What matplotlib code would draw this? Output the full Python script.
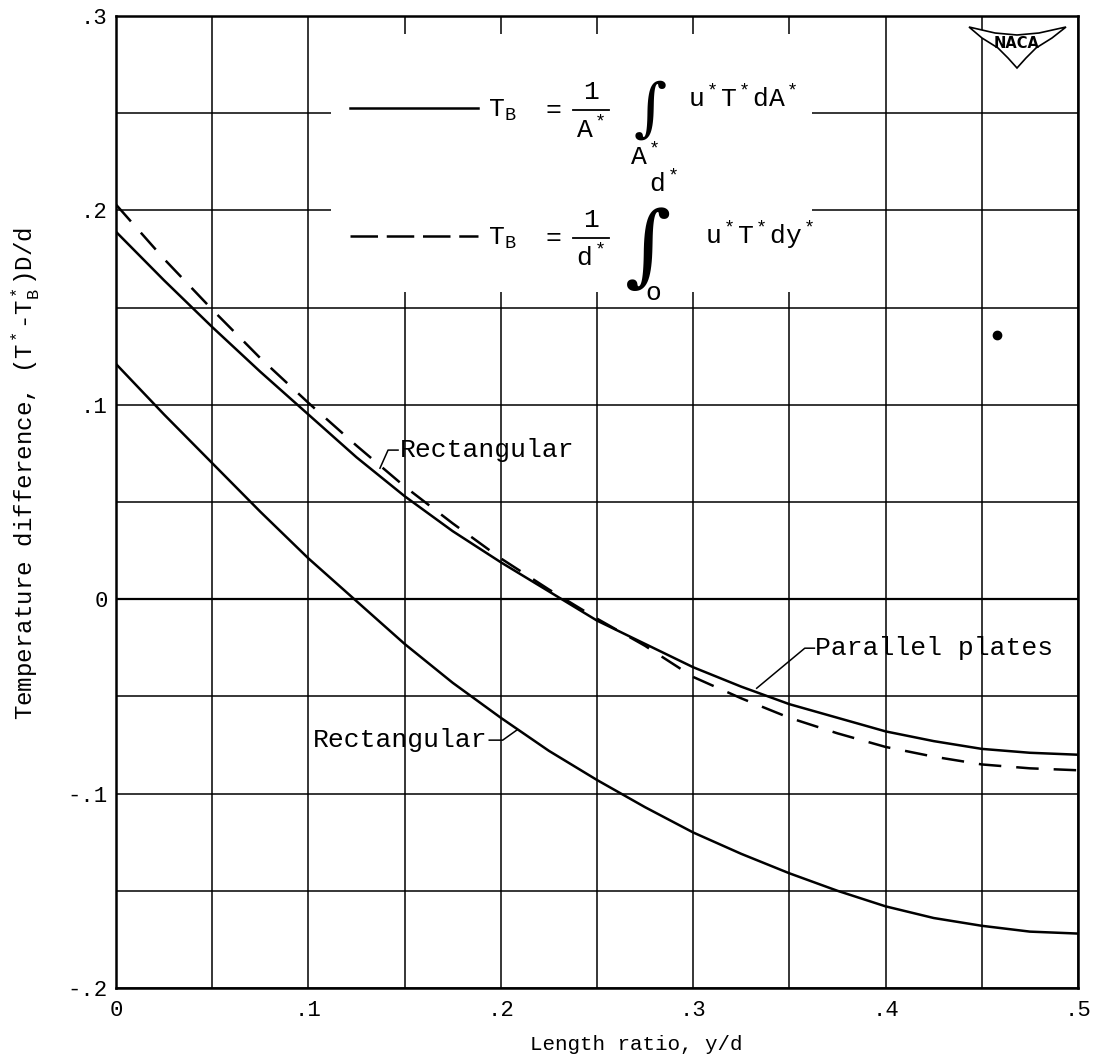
import matplotlib
matplotlib.use('Agg')
import matplotlib.pyplot as plt
from matplotlib.patches import Rectangle, Polygon

# --- data ---
y_d = [0.0, 0.025, 0.05, 0.075, 0.1, 0.125, 0.15, 0.175, 0.2, 0.225, 0.25,
       0.275, 0.3, 0.325, 0.35, 0.375, 0.4, 0.425, 0.45, 0.475, 0.5]

# upper solid curve (area-weighted bulk temperature)
solid_upper = [0.189, 0.164, 0.140, 0.117, 0.095, 0.073, 0.053, 0.035, 0.019, 0.004, -0.011,
               -0.023, -0.035, -0.045, -0.054, -0.061, -0.068, -0.073, -0.077, -0.079, -0.080]

# dashed curve (bulk temperature over d*)
dashed = [0.203, 0.175, 0.149, 0.124, 0.101, 0.079, 0.058, 0.039, 0.021, 0.005, -0.010,
          -0.024, -0.040, -0.051, -0.061, -0.069, -0.076, -0.081, -0.085, -0.087, -0.088]

# lower solid curve (Rectangular)
solid_lower = [0.121, 0.095, 0.070, 0.045, 0.021, -0.001, -0.023, -0.043, -0.061, -0.078, -0.093,
               -0.107, -0.120, -0.131, -0.141, -0.150, -0.158, -0.164, -0.168, -0.171, -0.172]

stray_dot = (0.458, 0.136)

x_ticks = [0.0, 0.1, 0.2, 0.3, 0.4, 0.5]
x_labels = ['0', '.1', '.2', '.3', '.4', '.5']
y_ticks = [-0.2, -0.1, 0.0, 0.1, 0.2, 0.3]
y_labels = ['-.2', '-.1', '0', '.1', '.2', '.3']

FONT = 'Liberation Mono'
plt.rcParams['font.family'] = [FONT, 'DejaVu Sans']
plt.rcParams['mathtext.fontset'] = 'custom'
plt.rcParams['mathtext.rm'] = FONT
plt.rcParams['mathtext.it'] = FONT
plt.rcParams['mathtext.bf'] = FONT + ':bold'

W, H = 1094, 1063
fig = plt.figure(figsize=(W / 100, H / 100), dpi=100)
ax = fig.add_axes([116 / W, 1 - 988 / H, (1078 - 116) / W, (988 - 16) / H])


def P(px, py):
    # pixel position in the figure -> figure fraction
    return px / W, 1 - py / H


ax.set_xlim(0, 0.5)
ax.set_ylim(-0.2, 0.3)
ax.set_xticks(x_ticks)
ax.set_xticklabels(x_labels)
ax.set_yticks(y_ticks)
ax.set_yticklabels(y_labels)
ax.set_xticks([0.05, 0.15, 0.25, 0.35, 0.45], minor=True)
ax.set_yticks([-0.15, -0.05, 0.05, 0.15, 0.25], minor=True)
ax.tick_params(which='both', length=0, labelsize=16)
ax.tick_params(axis='x', pad=9)
ax.tick_params(axis='y', pad=6)
ax.grid(True, which='both', color='black', lw=1.1)
ax.set_axisbelow(True)
for s in ax.spines.values():
    s.set_linewidth(1.8)
ax.axhline(0, color='black', lw=1.6, zorder=1)

# blank area behind the formulas
ax.add_patch(Rectangle((0.112, 0.158), 0.362 - 0.112, 0.2905 - 0.158,
                       facecolor='white', edgecolor='none', zorder=2))

ax.plot(y_d, solid_upper, color='black', lw=1.8, zorder=3)
ax.plot(y_d, dashed, color='black', lw=1.8, ls=(0, (9, 6)), zorder=3)
ax.plot(y_d, solid_lower, color='black', lw=1.8, zorder=3)
ax.plot([stray_dot[0]], [stray_dot[1]], 'o', color='black', ms=6, zorder=3)

# curve labels with leaders
lfs = 19
ax.text(0.1475, 0.0767, 'Rectangular', fontsize=lfs, va='center', ha='left', zorder=4)
ax.plot([0.1466, 0.1414, 0.1372], [0.0767, 0.0767, 0.0674], color='black', lw=1.1, zorder=4)

ax.text(0.193, -0.0725, 'Rectangular', fontsize=lfs, va='center', ha='right', zorder=4)
ax.plot([0.194, 0.201, 0.2085], [-0.0725, -0.0725, -0.0672], color='black', lw=1.1, zorder=4)

ax.text(0.3635, -0.0252, 'Parallel plates', fontsize=lfs, va='center', ha='left', zorder=4)
ax.plot([0.363, 0.358, 0.333], [-0.0252, -0.0252, -0.0458], color='black', lw=1.1, zorder=4)

# legend samples
ax.plot([0.1216, 0.188], [0.2526, 0.2526], color='black', lw=1.8, zorder=3)
ax.plot([0.1216, 0.188], [0.187, 0.187], color='black', lw=1.8, ls=(0, (11, 3.5)), zorder=3)

fs = 19
kw = dict(fontsize=fs, zorder=4)
# first formula
ax.text(0.1933, 0.2515, r'T$_\mathrm{B}$', va='center', ha='left', **kw)
ax.text(0.2271, 0.2515, '=', va='center', ha='center', **kw)
ax.text(0.2469, 0.2608, '1', va='center', ha='center', **kw)
ax.plot([0.2375, 0.2562], [0.2515, 0.2515], color='black', lw=1.3, zorder=4)
ax.text(0.2469, 0.2418, r'A$^*$', va='center', ha='center', **kw)
ax.text(0.2775, 0.251, '\u222b', fontsize=46, va='center', ha='center',
        family='DejaVu Serif', zorder=4)
ax.text(0.2745, 0.2279, r'A$^*$', va='center', ha='center', **kw)
ax.text(0.2973, 0.2577, r'u$^*$T$^*$dA$^*$', va='center', ha='left', **kw)

# second formula
ax.text(0.1933, 0.1857, r'T$_\mathrm{B}$', va='center', ha='left', **kw)
ax.text(0.2271, 0.1857, '=', va='center', ha='center', **kw)
ax.text(0.2469, 0.195, '1', va='center', ha='center', **kw)
ax.plot([0.2375, 0.2562], [0.1857, 0.1857], color='black', lw=1.3, zorder=4)
ax.text(0.2469, 0.1759, r'd$^*$', va='center', ha='center', **kw)
ax.text(0.2765, 0.1795, '\u222b', fontsize=64, va='center', ha='center',
        family='DejaVu Serif', zorder=4)
ax.text(0.2848, 0.214, r'd$^*$', va='center', ha='center', **kw)
ax.text(0.2795, 0.1575, 'o', va='center', ha='center', **kw)
ax.text(0.3061, 0.1872, r'u$^*$T$^*$dy$^*$', va='center', ha='left', **kw)

# NACA wing logo
wing = [P(969, 27), P(995, 33), P(1017, 35), P(1039, 33), P(1066, 27), P(1052, 38),
        P(1036, 48), P(1026, 58), P(1017, 68), P(1008, 58), P(998, 48), P(982, 38)]
fig.patches.append(Polygon(wing, closed=True, transform=fig.transFigure,
                           facecolor='white', edgecolor='black', lw=1.2))
fig.text(*P(1017, 44), 'NACA', fontsize=10.5, fontweight='bold', family='DejaVu Sans',
         va='center', ha='center')

# axis titles
fig.text(*P(26, 473), r'Temperature difference, (T$^*$-T$^*_\mathrm{B}$)D/d',
         fontsize=17.4, rotation=90, va='center', ha='center')
fig.text(*P(636, 1045), 'Length ratio, y/d', fontsize=15, va='center', ha='center')

fig.savefig('out.png', dpi=100, facecolor='white')
